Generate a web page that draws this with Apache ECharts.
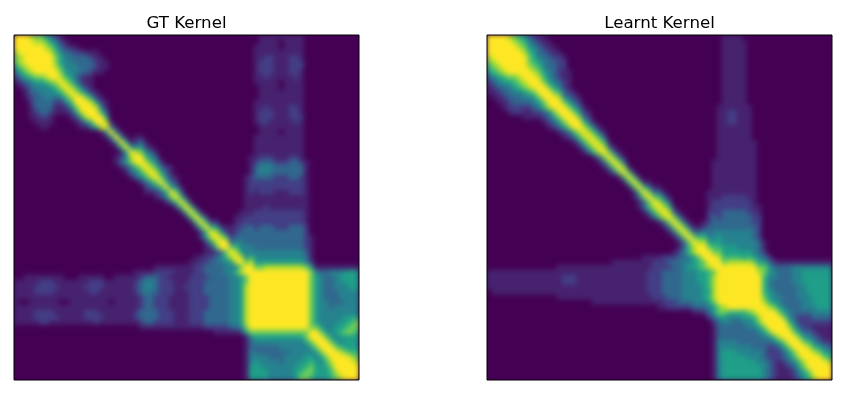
<!DOCTYPE html>
<html><head><meta charset="utf-8">
<style>
html,body{margin:0;padding:0;background:#fff}
#c{width:852px;height:400px}
#c canvas[data-zr-dom-id="zr_0"]{
  background:#440154;
  filter:blur(2.5px);
  clip-path:polygon(14px 35px,359px 35px,359px 380px,14px 380px,14px 35px,487px 35px,832px 35px,832px 380px,487px 380px,487px 35px);
}
</style>
<script src="https://cdn.jsdelivr.net/npm/echarts@6/dist/echarts.min.js"></script>
</head><body><div id="c"></div>
<script>
const titles = ["GT Kernel", "Learnt Kernel"];
const viridis = ["#440154","#47226f","#433e85","#31688e","#26828e","#1f9e89","#35b779","#6ece58","#b5de2b","#fde725"];
// Symmetric kernels: each row runs from the left edge to the diagonal; omitted leading digits are 0. Levels 0-9.
const gtRows = [
"9","99","999","8999","78999","789999","5789999","45789999","245677899","1234556789",
"01234445689","001334445689","0012334434689","00023333224699","000133331124799","0001233211125899","00011221000125899","000011110000124699","0000011000000113589","149",
"149","149","159","159","12489","135799","124689","134689","134689","23579",
"23469","112359","12479","1369","269","169","169","169","269","269",
"2589","2589","12699","112379","112234689","11223344589","1111111122333344479","111122221111223333446899",
"0011111111"+"0001111100"+"1111123332"+"2111122223"+"333445799",
"1111122211"+"1111122211"+"1111234432"+"2211122233"+"3334457999",
"1111222221"+"1111222211"+"1111234432"+"2211222233"+"33344589999",
"1111222211"+"1111122111"+"1111234332"+"2211122233"+"333445899999",
"1111111111"+"1111111111"+"1111123322"+"2111122223"+"3334458999999",
"1001111110"+"0111111110"+"1111123322"+"2111122223"+"33344589999999",
"1111111111"+"1111111111"+"1111123322"+"2111122223"+"333445899999999",
"1111222211"+"1111222111"+"1111233332"+"2211122233"+"3334458999999999",
"1111222221"+"1111222211"+"1111233332"+"2211122233"+"33344589999999999",
"1111122111"+"1111112111"+"1111123322"+"2211122233"+"333445899999999999",
"0000011111"+"1111111122"+"222334"+"7"+"999999999999",
"111112"+"5"+"777777777777"+"9",
"14"+"5555555555"+"799",
"13"+"4444444444"+"5799",
"13"+"3333344444"+"45799",
"14"+"3333333444"+"445799",
"14"+"4443334444"+"5545799",
"14"+"5444434445"+"56546899",
"15"+"5544444455"+"675557999",
"15"+"5554444456"+"7755568999",
"15"+"5554444457"+"76555678999"
];
const learntRows = [
"9","99","999","9999","89999","789999","6789999","56789999","345677899","2345567899",
"12334567899","112334456799","0112333445799","00112333345799","000122222346899","122112234799","1111235799","1235799","1235799","123689",
"123689","13689","13689","13689","1379","1379","1379","1379","169","169",
"169","169","1379","1379","13689","13689","13689","1379","1379","1379",
"1379","1379","13689","1246899","11112223"+"345799","111111"+"11222333"+"4456799",
"11111111111"+"111111"+"11222233"+"45567899",
"1111111111"+"1111111111"+"1111111111"+"1122233334"+"44556799",
"1111111111"+"1111122211"+"1111111111"+"1122233334"+"445568999",
"1111111111"+"1111122211"+"1111111111"+"1122233334"+"4455689999",
"1111111111"+"1111111111"+"1111111111"+"1122233334"+"44456899999",
"0111111111"+"1111111111"+"1111111111"+"1122233334"+"444558999999",
"0000000000"+"0000111111"+"1111111111"+"1112223334"+"4445689999999",
"0000000000"+"0000000000"+"0111111111"+"1111122233"+"34445799999999",
"0000112222"+"233345789999999",
"0112357766667899","2355444556899","2344334457999","13333334457999","133333333457999",
"1333333333446899","14444333333"+"3457"+"99","14"+"444444333"+"2235799","14"+"555444443"+"22235799",
"14"+"555554443"+"222346899","14"+"555555544"+"3212346899","14"+"555555554"+"32112357999","14"+"555555554"+"321112457999","14"+"555555554"+"3211123568999"
];
const panels = [[gtRows, 14], [learntRows, 487]];
const N = 69;
function cells(rows){
  const out = [];
  rows.forEach((r,i)=>{
    const s = r.padStart(i+1,'0');
    for(let j=0;j<=i;j++){
      const v = +s[j];
      out.push([j,i,v]);
      if(j!==i) out.push([i,j,v]);
    }
  });
  return out;
}
const cats = Array.from({length:N},(_,i)=>String(i));
const chart = echarts.init(document.getElementById('c'),null,{renderer:'canvas'});
chart.setOption({
  animation:false,
  title:panels.map((p,k)=>({text:titles[k],left:p[1]+172.5-5,top:10,textAlign:'center',zlevel:1,
    textStyle:{fontFamily:'DejaVu Sans',fontSize:16.67,fontWeight:'normal',color:'#000'}})),
  grid:panels.map(p=>({left:p[1],top:35,width:345,height:345,show:true,borderColor:'#000',borderWidth:1,backgroundColor:'transparent',zlevel:1})),
  xAxis:panels.map((p,k)=>({type:'category',gridIndex:k,data:cats,show:false})),
  yAxis:panels.map((p,k)=>({type:'category',gridIndex:k,data:cats,inverse:true,show:false})),
  visualMap:{show:false,min:0,max:9,inRange:{color:viridis},seriesIndex:[0,1]},
  series:panels.map((p,k)=>({type:'heatmap',xAxisIndex:k,yAxisIndex:k,data:cells(p[0]),progressive:0,silent:true,zlevel:0,itemStyle:{borderWidth:0}}))
});
</script></body></html>
